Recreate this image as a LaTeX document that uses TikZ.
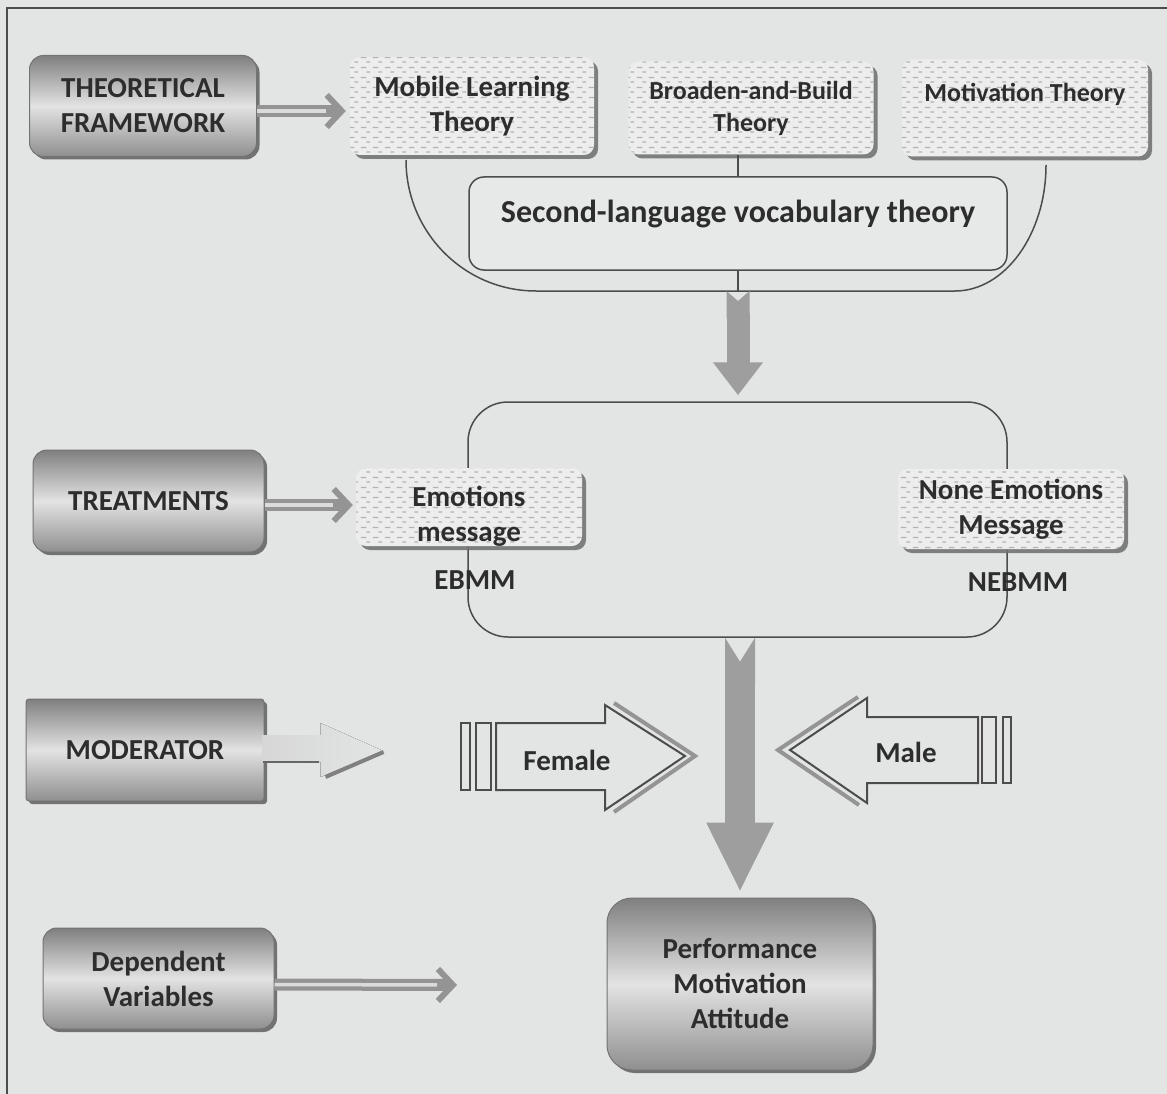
\documentclass[tikz,border=0pt]{standalone}
\usepackage{fontspec}
\setmainfont{Carlito}
\usetikzlibrary{arrows.meta,shadows,patterns,calc}

\definecolor{pagebg}{RGB}{227,229,229}
\definecolor{ink}{RGB}{45,45,45}

\pgfdeclarepatternformonly{dashrows}{\pgfpointorigin}{\pgfpoint{12pt}{10pt}}{\pgfpoint{12pt}{10pt}}{%
  \pgfpathrectangle{\pgfpoint{1pt}{6.5pt}}{\pgfpoint{6pt}{1.3pt}}%
  \pgfpathrectangle{\pgfpoint{7pt}{1.5pt}}{\pgfpoint{4pt}{1.3pt}}%
  \pgfusepath{fill}}

\newcommand{\mainlab}{\bfseries\fontsize{29}{35}\selectfont}
\newcommand{\minorlab}{\bfseries\fontsize{26}{32}\selectfont}
\newcommand{\widelab}{\bfseries\fontsize{32}{37}\selectfont}

\begin{document}
\begin{tikzpicture}[x=1pt,y=-1pt,
  darkbox/.style={rectangle, rounded corners=14pt, draw=black!55, line width=1pt,
    top color=black!50, bottom color=black!44, middle color=black!11,
    drop shadow={shadow xshift=3pt, shadow yshift=-3pt, fill=black!60, opacity=0.9},
    text=ink, font=\mainlab, align=center},
  dotbox/.style={rectangle, rounded corners=10pt, fill=black!7,
    drop shadow={shadow xshift=4pt, shadow yshift=-4pt, fill=black!55, opacity=0.9},
    postaction={pattern=dashrows, pattern color=black!30},
    text=ink, font=\mainlab, align=center},
  lbl/.style={text=ink, font=\mainlab, align=center},
  thinline/.style={draw=black!70, line width=1.5pt},
  pipe/.style={draw=black!42, line width=12pt,
    -{Straight Barb[length=15pt,width=32pt,line width=6pt]},
    postaction={draw=black!14, line width=3.5pt, -, shorten >=20pt}},
  bigarrow/.style={draw=black!38},
  genderarrow/.style={draw=black!70, line width=2pt},
  headshade/.style={draw=black!42, line width=4pt}]

\useasboundingbox[fill=pagebg] (0,0) rectangle (1167,1094);
\draw[black!70, line width=2pt] (7,1094) -- (7,8) -- (1167,8);

%Theoretical framework row
\node[darkbox, minimum width=227, minimum height=101] (tf) at (143,106) {THEORETICAL\\FRAMEWORK};
\node[dotbox, minimum width=244, minimum height=98] (mlt) at (472,106) {Mobile Learning\\Theory};
\node[dotbox, font=\minorlab, minimum width=245, minimum height=93] (bbt) at (751,108) {Broaden-and-Build\\Theory};
\node[dotbox, font=\minorlab, minimum width=246, minimum height=97] (mot) at (1025,108) {Motivation Theory\\\mbox{}};
\draw[pipe] ($(tf.east)+(0,5)$) -- ($(mlt.west)+(-4,5)$);

%Second-language theory and the bracket under the three theories
\node[thinline, rounded corners=15pt, fill=white!15!pagebg, font=\widelab, text=ink,
  minimum width=538, minimum height=93, text height=22pt, text depth=24pt] (slv) at (738,223.5)
  {Second-language vocabulary theory};
\coordinate (ul) at (406,160);
\coordinate (ur) at (1046,165);
\coordinate (ub) at (738,291);
\draw[thinline] (ul) .. controls (406,232) and (464,291) .. (536,291) -- (955,291)
  .. controls (1005,291) and (1046,234) .. (ur);
\draw[thinline] (slv.north) -- (slv.north |- bbt.south);
\draw[thinline] (slv.south) -- (ub);

%Treatments
\node[thinline, rounded corners=40pt, minimum width=539, minimum height=235] (tframe) at (737.5,519.5) {};
\draw[bigarrow, line width=23pt, {Triangle Cap[reversed,length=10pt]}-{Triangle[length=33pt,width=48pt]},
  shorten >=6pt] (ub) -- (ub |- tframe.north);
\node[darkbox, minimum width=231, minimum height=102] (treat) at (148.5,501) {TREATMENTS};
\node[dotbox, minimum width=226, minimum height=78] (emo) at (469,507) {};
\node[lbl] (emotxt) at ([yshift=-9pt]emo.center) {Emotions\\message};
\node[dotbox, minimum width=226, minimum height=80] (nemo) at (1011,509) {None Emotions\\Message};
\node[lbl] (ebmm) at (475,580) {EBMM};
\node[lbl] (nebmm) at (1018,582) {NEBMM};
\draw[pipe] ($(treat.east)+(0,4)$) -- ($(emo.west)+(-3,-2)$);

%Moderator with faded arrow
\node[darkbox, rounded corners=3pt, minimum width=238, minimum height=102] (mod) at (145,750) {MODERATOR};
\fill[left color=black!16, right color=pagebg] ($(mod.east)+(-2,-15)$) -- ++(58,0) -- ++(0,-12)
  -- ++(63,28) -- ++(-63,26) -- ++(0,-15) -- ++(-58,0) -- cycle;
\draw[black!60, line width=2pt] ($(mod.east)+(-2,12)$) -- ++(56,0);
\draw[black!50, line width=4pt] ($(mod.east)+(61,27)$) -- ++(58,-25);

%Female / Male arrows
\draw[genderarrow] (461,723) rectangle (470,790);
\draw[genderarrow] (476,723) rectangle (491,790);
\draw[genderarrow] (496,723) -- (605,723) -- (605,705) -- (685,756) -- (605,810) -- (605,790) -- (496,790) -- cycle;
\draw[headshade] (614,703) -- (695,756) -- (614,812);
\node[lbl] (female) at (567,760) {Female};

\draw[genderarrow] (1003,717) rectangle (1011,783);
\draw[genderarrow] (982,717) rectangle (996,783);
\draw[genderarrow] (978,717) -- (867,717) -- (867,698) -- (790,750) -- (867,803) -- (867,783) -- (978,783) -- cycle;
\draw[headshade] (858,697) -- (778,750) -- (859,805);
\node[lbl] (male) at (906,752) {Male};

%Dependent variables and outcome
\node[darkbox, rounded corners=25pt, minimum width=266, minimum height=172] (perf) at (740,984) {Performance\\Motivation\\Attitude};
\draw[bigarrow, line width=30pt, {Triangle Cap[reversed,length=24pt]}-{Triangle[length=70pt,width=62pt]},
  shorten >=5pt] (perf.north |- tframe.south) -- (perf.north);
\node[darkbox, minimum width=231, minimum height=101] (dv) at (158.5,978.5) {Dependent\\Variables};
\coordinate (dvtip) at (457,985);
\draw[pipe] ($(dv.east)+(0,6)$) -- (dvtip);

\end{tikzpicture}
\end{document}
